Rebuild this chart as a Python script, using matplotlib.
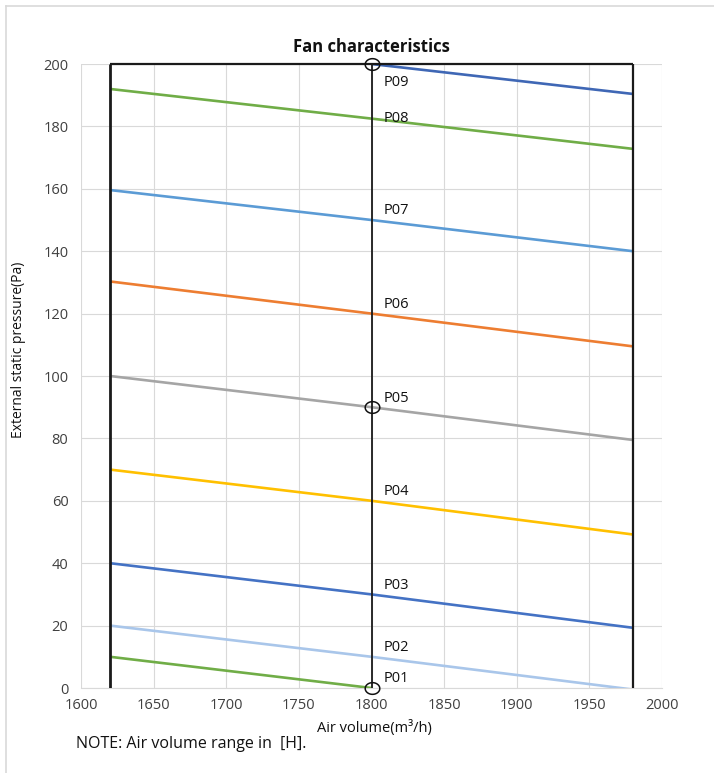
import numpy as np
import matplotlib
matplotlib.use("Agg")
import matplotlib.pyplot as plt
from matplotlib.lines import Line2D
from matplotlib.path import Path

plt.rcParams['font.family'] = ['Open Sans', 'DejaVu Sans']

# ---- data ----
air_volume = [1620, 1800, 1980]
series_names = ["P01", "P02", "P03", "P04", "P05", "P06", "P07", "P08", "P09"]
P01 = [10, 0, np.nan]
P02 = [20, 10, -0.5]
P03 = [40, 30, 19.3]
P04 = [70, 60, 49.2]
P05 = [100, 90, 79.5]
P06 = [130.3, 120, 109.5]
P07 = [159.6, 150, 140]
P08 = [192, 182.5, 172.8]
P09 = [np.nan, 200, 190.4]
series_values = [P01, P02, P03, P04, P05, P06, P07, P08, P09]
label_x = 1800
label_y = [0, 10, 30, 60, 90, 120, 150, 182.5, 200]
marked_x = [1800, 1800, 1800]
marked_y = [200, 90, 0]
x_ticks = [1600, 1650, 1700, 1750, 1800, 1850, 1900, 1950, 2000]
y_ticks = [0, 20, 40, 60, 80, 100, 120, 140, 160, 180, 200]

colors = ["#70AD47", "#A9C6EA", "#4472C4", "#FFC000", "#A5A5A5",
          "#ED7D31", "#5B9BD5", "#70AD47", "#3F67B5"]

W, H = 714, 773
fig = plt.figure(figsize=(W / 100, H / 100), dpi=100)
ax = fig.add_axes([81 / W, 1 - 688 / H, 581 / W, 624 / H])

ax.set_xlim(1600, 2000)
ax.set_ylim(0, 200)
ax.set_xticks(x_ticks)
ax.set_yticks(y_ticks)
ax.grid(True, color="#D9D9D9", linewidth=0.8, zorder=0)
ax.set_axisbelow(True)
for s in ["top", "right", "left"]:
    ax.spines[s].set_visible(False)
ax.spines["bottom"].set_color("#D9D9D9")
ax.spines["bottom"].set_linewidth(0.8)
ax.tick_params(axis="both", length=0, labelsize=10.5, labelcolor="#404040")
ax.tick_params(axis="y", pad=9)
ax.tick_params(axis="x", pad=7)

for vals, c in zip(series_values, colors):
    ax.plot(air_volume, vals, color=c, linewidth=1.9, zorder=3,
            solid_capstyle="butt")

# black frame lines
ax.vlines([air_volume[0]], 0, 200, color="#1a1a1a", linewidth=2.0, zorder=4)
ax.vlines([air_volume[1]], 0, 200, color="#1a1a1a", linewidth=1.3, zorder=4)
ax.vlines([air_volume[2]], 0, 200, color="#1a1a1a", linewidth=1.6, zorder=4)
ax.hlines([200], air_volume[0], air_volume[2], color="#1a1a1a",
          linewidth=1.6, zorder=4, clip_on=False)

# elliptical open markers
t = np.linspace(0, 2 * np.pi, 80)
ell = Path(np.column_stack([np.cos(t), 0.8 * np.sin(t)]))
ax.plot(marked_x, marked_y, linestyle="none", marker=ell, markersize=10.5,
        markerfacecolor="none", markeredgecolor="#111111",
        markeredgewidth=1.1, zorder=6, clip_on=False)

# series labels
offsets = {"P08": 0, "P09": -19}
for name, ly in zip(series_names, label_y):
    dy = offsets.get(name, 9)
    ax.annotate(name, (label_x, ly), xytext=(12, dy), textcoords="offset pixels",
                ha="left", va="center", fontsize=10.5, color="#111111",
                zorder=7)

ax.set_title("Fan characteristics", fontsize=12, fontweight="bold",
             color="#111111", pad=0, y=(688 - 47) / 624, va="center")
ax.set_ylabel("External static pressure(Pa)", fontsize=10, color="#111111")
ax.yaxis.set_label_coords(-0.095, (688 - 350) / 624)
ax.set_xlabel("Air volume(m³/h)", fontsize=10.5, color="#111111", va="center")
ax.xaxis.set_label_coords(0.505, (688 - 728) / 624)

fig.text(76 / W, 1 - 744 / H, "NOTE: Air volume range in  [H].",
         fontsize=11.5, color="#111111", ha="left", va="center")

# chart area border
fig.add_artist(Line2D([5.5 / W, 5.5 / W], [0, 1 - 5.5 / H],
                      transform=fig.transFigure, color="#D9D9D9", linewidth=1.2))
fig.add_artist(Line2D([5.5 / W, 1], [1 - 5.5 / H, 1 - 5.5 / H],
                      transform=fig.transFigure, color="#D9D9D9", linewidth=1.2))

fig.savefig("out.png", dpi=100, facecolor="white")
